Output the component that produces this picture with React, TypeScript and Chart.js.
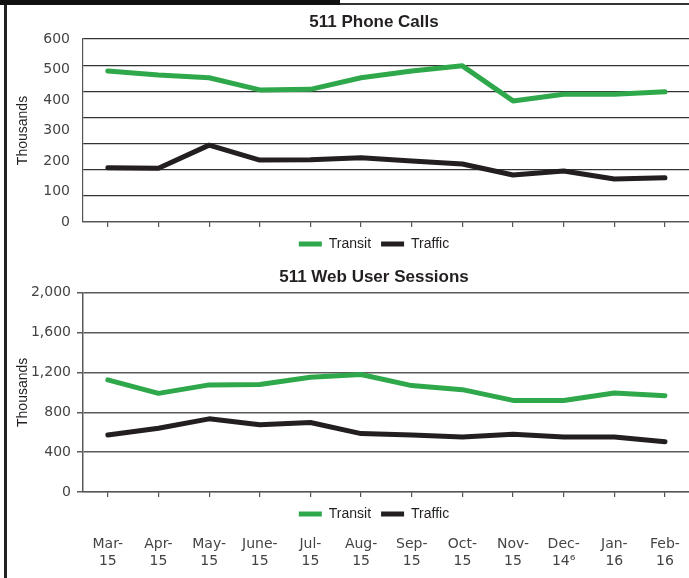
import React, { useEffect, useRef } from 'react';
import { Chart, registerables } from 'chart.js';

Chart.register(...registerables);

// ---- Data ----
const months: string[][] = [
  ['Mar-', '15'], ['Apr-', '15'], ['May-', '15'], ['June-', '15'], ['Jul-', '15'], ['Aug-', '15'],
  ['Sep-', '15'], ['Oct-', '15'], ['Nov-', '15'], ['Dec-', '14\u2076'], ['Jan-', '16'], ['Feb-', '16'],
];
const phoneTransit = [495, 482, 473, 433, 435, 473, 495, 512, 397, 419, 419, 427];
const phoneTraffic = [178, 176, 252, 203, 204, 211, 200, 190, 154, 167, 141, 145];
const webTransit = [1125, 990, 1075, 1078, 1152, 1179, 1068, 1027, 919, 919, 994, 967];
const webTraffic = [573, 640, 734, 674, 697, 586, 573, 552, 580, 552, 552, 505];

const phoneLabelMax = 600;
const phoneLabelStep = 100;
const phoneGridMax = 700;
const phoneGridStep = 100;
const webMax = 2000;
const webStep = 400;

const seriesNames = ['Transit', 'Traffic'];
const titles = ['511 Phone Calls', '511 Web User Sessions'];
const yTitle = 'Thousands';

// ---- Styles ----
const GREEN = '#2ea84a';
const BLACK = '#231f20';
const TEXT = '#231f20';
const TICK = '#444444';
const tickFont = { family: 'DejaVu Sans', size: 14 };
const titleFont = { family: 'Liberation Sans', size: 17, weight: 'bold' as const };
const legendFont = { family: 'Liberation Sans', size: 14 };
const axisTitleFont = { family: 'Liberation Sans', size: 14 };

function makeDatasets(a: number[], b: number[]) {
  const common = {
    borderWidth: 5,
    pointRadius: 0,
    pointHoverRadius: 0,
    tension: 0,
    borderCapStyle: 'round' as const,
    borderJoinStyle: 'round' as const,
    xAxisID: 'x',
    yAxisID: 'y',
  };
  return [
    { ...common, label: seriesNames[0], data: a, borderColor: GREEN, backgroundColor: GREEN },
    { ...common, label: seriesNames[1], data: b, borderColor: BLACK, backgroundColor: BLACK },
  ];
}

function legendOpts() {
  return {
    display: true,
    position: 'bottom' as const,
    labels: {
      boxWidth: 23,
      boxHeight: 5,
      padding: 10,
      color: TEXT,
      font: legendFont,
      generateLabels: (chart: any) =>
        (Chart.defaults.plugins.legend.labels as any)
          .generateLabels(chart)
          .map((l: any) => ({ ...l, lineWidth: 0 })),
    },
  };
}

const rightSpacer = {
  type: 'linear' as const,
  position: 'right' as const,
  grid: { display: false, drawTicks: false },
  ticks: { display: false },
  border: { display: false },
  afterFit: (s: any) => {
    s.width = 57.7;
  },
};

const xTicksOnly = {
  type: 'category' as const,
  position: 'bottom' as const,
  offset: true,
  grid: { display: true, drawOnChartArea: false, drawTicks: true, tickLength: 5, color: '#555555', lineWidth: 1.2 },
  border: { display: true, color: '#555555', width: 1.2 },
  ticks: { display: false },
};

export default function App() {
  const topRef = useRef<HTMLCanvasElement | null>(null);
  const botRef = useRef<HTMLCanvasElement | null>(null);

  useEffect(() => {
    if (!topRef.current || !botRef.current) return;

    const top = new Chart(topRef.current, {
      type: 'line',
      data: { labels: months, datasets: makeDatasets(phoneTransit, phoneTraffic) as any },
      options: {
        responsive: false,
        animation: false,
        devicePixelRatio: 1,
        layout: { padding: 0 },
        plugins: {
          title: {
            display: true,
            text: titles[0],
            color: TEXT,
            font: titleFont,
            padding: { top: 11.8, bottom: 6.8 },
          },
          legend: legendOpts() as any,
          tooltip: { enabled: false },
        },
        scales: {
          x: xTicksOnly as any,
          yg: {
            type: 'linear',
            position: 'left',
            weight: 0,
            min: 0,
            max: phoneGridMax,
            ticks: { display: false, stepSize: phoneGridStep },
            grid: { color: '#333333', lineWidth: 1.2, drawTicks: false },
            border: { display: true, color: '#555555', width: 1.2 },
          },
          y: {
            type: 'linear',
            position: 'left',
            weight: 1,
            min: 0,
            max: phoneLabelMax,
            ticks: { stepSize: phoneLabelStep, color: TICK, font: tickFont, padding: 12.5 },
            grid: { display: false, drawTicks: false },
            border: { display: false },
            title: { display: true, text: yTitle, color: TEXT, font: axisTitleFont, padding: { top: 14.6, bottom: 0 } },
            afterFit: (s: any) => {
              s.width = 82.5;
            },
          } as any,
          yr: rightSpacer as any,
        },
      },
    });

    const bot = new Chart(botRef.current, {
      type: 'line',
      data: { labels: months, datasets: makeDatasets(webTransit, webTraffic) as any },
      options: {
        responsive: false,
        animation: false,
        devicePixelRatio: 1,
        layout: { padding: { bottom: 3 } },
        locale: 'en-US',
        plugins: {
          title: {
            display: true,
            text: titles[1],
            color: TEXT,
            font: titleFont,
            padding: { top: 5.8, bottom: 5.5 },
          },
          legend: legendOpts() as any,
          tooltip: { enabled: false },
        },
        scales: {
          x: xTicksOnly as any,
          x2: {
            type: 'category',
            position: 'bottom',
            weight: 1500,
            offset: true,
            grid: { display: false, drawTicks: false },
            border: { display: false },
            ticks: {
              color: TICK,
              font: { family: 'DejaVu Sans', size: 14, lineHeight: 1.25 },
              padding: 4.5,
              autoSkip: false,
              maxRotation: 0,
              minRotation: 0,
            },
          } as any,
          y: {
            type: 'linear',
            position: 'left',
            min: 0,
            max: webMax,
            ticks: { stepSize: webStep, color: TICK, font: tickFont, padding: 6 },
            grid: { color: '#5a5a5a', lineWidth: 1.5, drawTicks: true, tickLength: 5.5 },
            border: { display: true, color: '#5a5a5a', width: 1.5 },
            title: { display: true, text: yTitle, color: TEXT, font: axisTitleFont, padding: { top: 14.6, bottom: 0 } },
            afterFit: (s: any) => {
              s.width = 82.5;
            },
          } as any,
          yr: rightSpacer as any,
        },
      },
    });

    return () => {
      top.destroy();
      bot.destroy();
    };
  }, []);

  return (
    <div style={{ position: 'absolute', left: 0, top: 0, width: 689, height: 578, overflow: 'hidden', background: '#fff' }}>
      <canvas ref={topRef} width={748} height={261} style={{ position: 'absolute', left: 0, top: 0, width: 748, height: 261 }} />
      <canvas ref={botRef} width={748} height={317} style={{ position: 'absolute', left: 0, top: 261, width: 748, height: 317 }} />
      <div style={{ position: 'absolute', left: 4, top: 0, width: 3, height: 578, background: '#222' }} />
      <div style={{ position: 'absolute', left: 0, top: 0, width: 340, height: 5, background: '#111' }} />
      <div style={{ position: 'absolute', left: 340, top: 3, width: 349, height: 2, background: '#333' }} />
    </div>
  );
}
